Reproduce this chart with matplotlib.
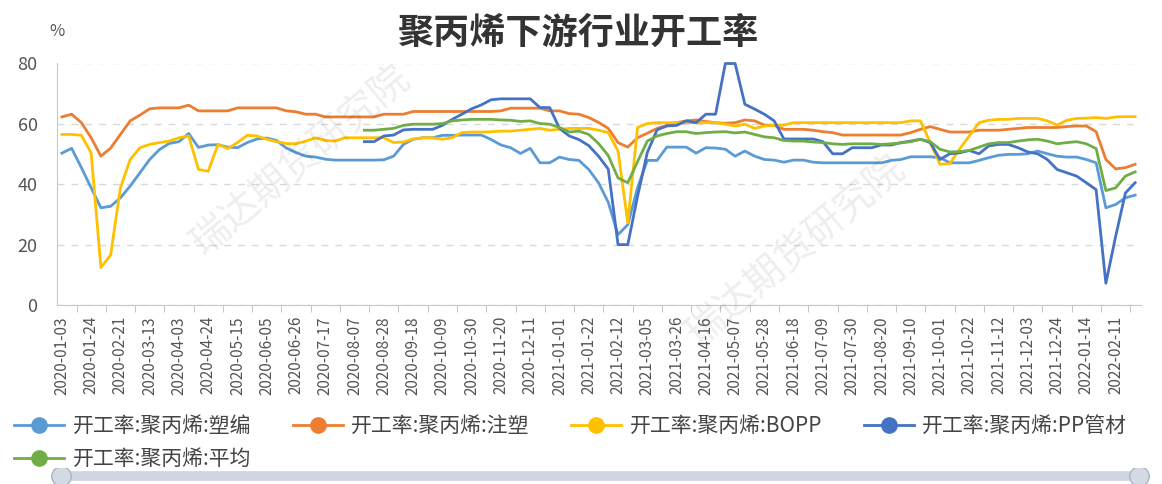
import numpy as np
import pandas as pd
import matplotlib
matplotlib.use('Agg')
import matplotlib.pyplot as plt
from matplotlib.lines import Line2D

plt.rcParams['font.family'] = ['Noto Sans CJK SC', 'DejaVu Sans']

# weekly dates, two holiday weeks missing
dates = pd.date_range('2020-01-03', '2022-02-25', freq='7D')
dates = dates.drop(pd.to_datetime(['2020-01-31', '2022-02-04']))
date_labels = list(dates.strftime('%Y-%m-%d'))

nan = np.nan

sujian = [50.3, 51.9, 45.5, 38.8, 32.2, 32.7, 35.5, 39.4, 43.8, 48.2,
          51.5, 53.5, 54.1, 56.8, 52.2, 53.0, 53.1, 52.3, 52.1, 53.8,
          55.0, 55.3, 54.5, 52.0, 50.5, 49.3, 49.0, 48.3, 48.0, 48.0,
          48.0, 48.0, 48.0, 48.1, 49.3, 53.2, 54.9, 55.4, 55.4, 56.2,
          56.2, 56.3, 56.3, 56.3, 54.8, 53.0, 52.1, 50.2, 51.9, 47.1,
          47.1, 49.0, 48.2, 47.9, 44.9, 40.5, 34.0, 23.3, 26.6, 38.8,
          47.9, 47.9, 52.3, 52.3, 52.3, 50.3, 52.1, 52.0, 51.6, 49.3,
          51.0, 49.3, 48.2, 48.0, 47.3, 48.0, 48.0, 47.3, 47.1, 47.1,
          47.1, 47.1, 47.1, 47.1, 47.1, 47.9, 48.2, 49.1, 49.1, 49.1,
          48.8, 47.1, 47.1, 47.1, 47.9, 48.8, 49.6, 49.9, 49.9, 50.1,
          51.0, 50.1, 49.3, 49.0, 49.0, 48.2, 47.1, 32.2, 33.3, 35.5,
          36.4]

zhusu = [62.3, 63.2, 60.4, 55.4, 49.3, 52.0, 56.5, 61.0, 62.9, 65.0,
         65.3, 65.3, 65.3, 66.2, 64.3, 64.3, 64.3, 64.3, 65.3, 65.3,
         65.3, 65.3, 65.3, 64.3, 64.0, 63.2, 63.2, 62.3, 62.3, 62.3,
         62.3, 62.3, 62.3, 63.2, 63.2, 63.2, 64.1, 64.1, 64.1, 64.1,
         64.1, 64.1, 64.1, 64.1, 64.1, 64.3, 65.2, 65.2, 65.2, 65.2,
         64.3, 64.3, 63.4, 63.2, 62.1, 60.5, 58.5, 53.8, 52.3, 55.4,
         56.9, 58.5, 59.5, 60.4, 61.0, 61.3, 60.8, 60.4, 60.2, 60.4,
         61.3, 61.0, 59.6, 59.5, 58.2, 58.2, 58.2, 57.9, 57.4, 57.1,
         56.3, 56.3, 56.3, 56.3, 56.3, 56.3, 56.3, 57.1, 58.2, 59.1,
         58.2, 57.3, 57.3, 57.3, 57.9, 57.9, 57.9, 58.2, 58.5, 58.8,
         58.8, 58.8, 58.8, 59.1, 59.3, 59.3, 57.4, 48.2, 45.1, 45.5,
         46.6]

bopp = [56.5, 56.5, 56.2, 50.4, 12.4, 16.6, 38.8, 48.2, 52.1, 53.2,
        53.8, 54.3, 55.4, 56.0, 44.9, 44.3, 53.2, 51.8, 53.8, 56.2,
        56.0, 54.9, 54.1, 53.5, 53.4, 54.3, 55.4, 54.5, 54.3, 55.4,
        55.4, 55.4, 55.4, 55.4, 53.8, 54.0, 55.0, 55.4, 55.4, 54.9,
        55.4, 57.1, 57.3, 57.3, 57.4, 57.6, 57.6, 57.9, 58.2, 58.5,
        57.9, 58.2, 58.5, 58.5, 58.5, 57.9, 57.1, 51.0, 27.2, 58.8,
        60.1, 60.4, 60.4, 60.4, 60.4, 60.4, 60.4, 60.4, 59.9, 59.3,
        59.9, 58.5, 59.3, 59.6, 59.6, 60.4, 60.4, 60.4, 60.4, 60.4,
        60.4, 60.4, 60.4, 60.4, 60.4, 60.4, 60.4, 61.0, 61.0, 53.8,
        46.6, 46.8, 51.6, 56.0, 60.4, 61.2, 61.5, 61.5, 61.8, 61.8,
        61.8, 61.0, 59.6, 61.2, 61.8, 61.9, 62.1, 61.8, 62.3, 62.4,
        62.4]

pp_guancai = [nan] * 31 + [
    54.1, 54.1, 56.0, 56.3, 58.0, 58.2, 58.2, 58.2, 59.5,
    61.5, 63.2, 65.0, 66.3, 68.0, 68.3, 68.3, 68.3, 68.3, 65.4,
    65.4, 58.5, 56.0, 54.8, 52.8, 49.3, 45.0, 20.0, 20.0, 36.0,
    50.5, 58.0, 59.3, 59.5, 61.0, 60.4, 63.2, 63.2, 80.0, 80.0,
    66.5, 64.9, 63.2, 61.0, 55.0, 55.0, 55.0, 55.0, 54.1, 50.1,
    50.1, 52.1, 52.1, 52.1, 53.0, 53.0, 53.8, 54.3, 54.9, 53.8,
    48.2, 50.1, 50.4, 51.2, 50.1, 52.7, 53.2, 53.2, 52.1, 50.7,
    50.1, 48.2, 44.9, 43.8, 42.7, 40.5, 38.2, 7.2, 22.7, 37.1,
    40.5]

pingjun = [nan] * 31 + [
    57.9, 57.9, 58.2, 58.5, 59.5, 59.9, 59.9, 59.9, 60.1,
    61.0, 61.3, 61.5, 61.5, 61.5, 61.3, 61.2, 60.8, 61.0, 60.1,
    59.9, 58.8, 57.3, 57.6, 56.5, 53.5, 49.5, 42.1, 40.5, 47.5,
    54.3, 56.0, 56.8, 57.4, 57.4, 56.8, 57.1, 57.3, 57.4, 57.0,
    57.3, 56.5, 55.7, 55.4, 54.5, 54.3, 54.3, 54.0, 53.8, 53.4,
    53.2, 53.4, 53.4, 53.4, 53.2, 53.4, 53.7, 54.1, 54.9, 54.1,
    51.6, 50.7, 50.8, 51.2, 52.3, 53.4, 53.8, 53.8, 54.3, 54.7,
    54.9, 54.3, 53.4, 53.8, 54.1, 53.4, 51.8, 37.9, 38.8, 42.7,
    44.1]

series_names = ['开工率:聚丙烯:塑编', '开工率:聚丙烯:注塑', '开工率:聚丙烯:BOPP',
                '开工率:聚丙烯:PP管材', '开工率:聚丙烯:平均']
series_values = [sujian, zhusu, bopp, pp_guancai, pingjun]
colors = ['#5B9BD5', '#ED7D31', '#FFC000', '#4472C4', '#70AD47']

W, H = 1162, 484
fig = plt.figure(figsize=(W / 100, H / 100), dpi=100)
ax = fig.add_axes([57 / W, 179 / H, 1084 / W, 241.5 / H])

x = np.arange(len(date_labels))
for vals, name, c in zip(series_values, series_names, colors):
    ax.plot(x, np.array(vals, dtype=float), color=c, lw=2.0, clip_on=False,
            solid_joinstyle='round')

ax.set_xlim(-0.5, 110.6)
ax.set_ylim(0, 80)
ax.set_yticks([0, 20, 40, 60, 80])
ax.yaxis.grid(True, linestyle=(0, (5, 5)), color='#d9d9d9', lw=1)
ax.set_axisbelow(True)

ax.set_xticks(x[::3])
ax.set_xticklabels(date_labels[::3], rotation=90, fontsize=11, color='#555555')
ax.set_xticks(np.arange(1.5, len(x), 3), minor=True)
ax.tick_params(axis='x', which='major', length=0, pad=8)
ax.tick_params(axis='x', which='minor', length=5, color='#bbbbbb')
ax.tick_params(axis='y', length=0, pad=14, labelsize=13, labelcolor='#555555')

for s in ['top', 'right']:
    ax.spines[s].set_visible(False)
for s in ['left', 'bottom']:
    ax.spines[s].set_color('#c8c8c8')

fig.text(0.497, 1 - 33 / H, '聚丙烯下游行业开工率', ha='center', va='center',
         fontsize=26, fontweight='bold', color='#333333')
fig.text(57 / W, 1 - 32 / H, '%', ha='center', va='center', fontsize=12,
         color='#555555')

# watermark
fig.text(300 / W, 1 - 160 / H, '瑞达期货研究院', ha='center', va='center',
         rotation=40, fontsize=28, color='#000000', alpha=0.07)
fig.text(795 / W, 1 - 250 / H, '瑞达期货研究院', ha='center', va='center',
         rotation=40, fontsize=28, color='#000000', alpha=0.07)

# legend filled column-wise, so order it to read row by row
order = [0, 4, 1, 2, 3]
handles = [Line2D([], [], color=colors[k], lw=2, marker='o', markersize=11)
           for k in order]
fig.legend(handles, [series_names[k] for k in order], loc='upper left',
           bbox_to_anchor=(4 / W, 1 - 405 / H), ncol=4, frameon=False,
           fontsize=15, handlelength=2.4, handletextpad=0.4,
           columnspacing=2.0, labelspacing=0.5, borderpad=0,
           labelcolor='#444444')

# slider strip at the bottom
sl = fig.add_axes([50 / W, 0, 1100 / W, 16 / H])
sl.set_xlim(0, 1)
sl.set_ylim(0, 1)
sl.axis('off')
sl.plot([0.01, 0.99], [0.5, 0.5], color='#cfd6e2', lw=7, solid_capstyle='round')
sl.plot([0.01, 0.99], [0.5, 0.5], ls='none', marker='o', markersize=14,
        markerfacecolor='#d5dbe4', markeredgecolor='#a9b3c2')

fig.savefig('out.png', dpi=100)
